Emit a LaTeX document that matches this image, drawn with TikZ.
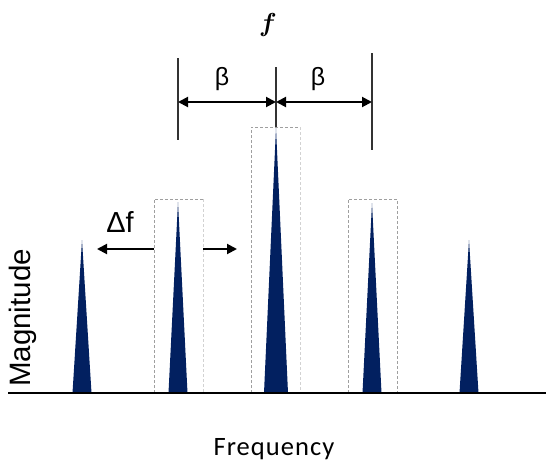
\documentclass[tikz,border=0pt]{standalone}
\usepackage{fontspec}
\setmainfont{Liberation Sans}
\newfontfamily\freqfont[LetterSpace=4]{Carlito}
\usetikzlibrary{arrows.meta}
\definecolor{navy}{RGB}{2,32,96}
\tikzset{
  peak/.style={fill=navy,draw=none},
  dbox/.style={draw=gray!75,dashed,line width=0.9pt,dash pattern=on 3pt off 2pt},
  dboxlight/.style={draw=gray!35,dashed,line width=0.9pt,dash pattern=on 3pt off 2pt},
  tick/.style={draw=black!80,line width=2pt},
  dim/.style={draw=black,line width=2pt,{Triangle[length=10pt,width=10pt]}-{Triangle[length=10pt,width=10pt]}},
  oneway/.style={draw=black,line width=2pt,-{Triangle[length=10pt,width=10pt]}},
  lbl/.style={inner sep=0pt}
}
\begin{document}
\begin{tikzpicture}[x=1pt,y=-1pt]
\useasboundingbox (0,0) rectangle (550,474);
% dashed boxes
\draw[dbox] (154,393) -- (154,199) -- (203,199);
\draw[dboxlight] (203,199) -- (203,393);
\draw[dbox] (251,393) -- (251,127) -- (300,127);
\draw[dboxlight] (300,127) -- (300,393);
\draw[dbox] (348,393) -- (348,199) -- (397,199) -- (397,393);
% peaks
\fill[peak] (72.5,393) -- (82,240) -- (91.5,393) -- cycle;
\fill[peak] (168.5,393) -- (178,202) -- (187.5,393) -- cycle;
\fill[peak] (264,393) -- (276,128) -- (288,393) -- cycle;
\fill[peak] (362.5,393) -- (372,203) -- (381.5,393) -- cycle;
\fill[peak] (459.5,393) -- (469,240) -- (478.5,393) -- cycle;
% baseline
\coordinate (bl) at (8,393);
\coordinate (br) at (546,393);
\draw[black,line width=2pt] (bl) -- (br);
% beta dimension ticks
\coordinate (t1a) at (178,58);  \coordinate (t1b) at (178,140);
\coordinate (t2a) at (276,67);  \coordinate (t2b) at (276,127);
\coordinate (t3a) at (372,53);  \coordinate (t3b) at (372,150);
\draw[tick] (t1a) -- (t1b);
\draw[tick] (t2a) -- (t2b);
\draw[tick] (t3a) -- (t3b);
\coordinate (d1) at (178,102); \coordinate (d2) at (276,102); \coordinate (d3) at (372,102);
\draw[dim] (d1) -- (d2);
\draw[dim] (d2) -- (d3);
\node[lbl,font=\fontsize{25}{28}\selectfont] (b1) at (222,79) {β};
\node[lbl,font=\fontsize{25}{28}\selectfont] (b2) at (318,79) {β};
\node[lbl,scale=2.6,font=\boldmath] (f) at (268,25) {$f$};
% delta f
\coordinate (l0) at (154,249); \coordinate (l1) at (97,249);
\coordinate (r0) at (203,249); \coordinate (r1) at (237,249);
\draw[oneway] (l0) -- (l1);
\draw[oneway] (r0) -- (r1);
\node[lbl,font=\fontsize{29}{32}\selectfont] (df) at (120,222) {Δf};
% axis labels
\node[lbl,rotate=90,font=\fontsize{29.5}{32}\selectfont] (mag) at (23,318) {Magnitude};
\node[lbl,font=\freqfont\fontsize{26.5}{30}\selectfont] (freq) at (274,449) {Frequency};
\end{tikzpicture}
\end{document}
